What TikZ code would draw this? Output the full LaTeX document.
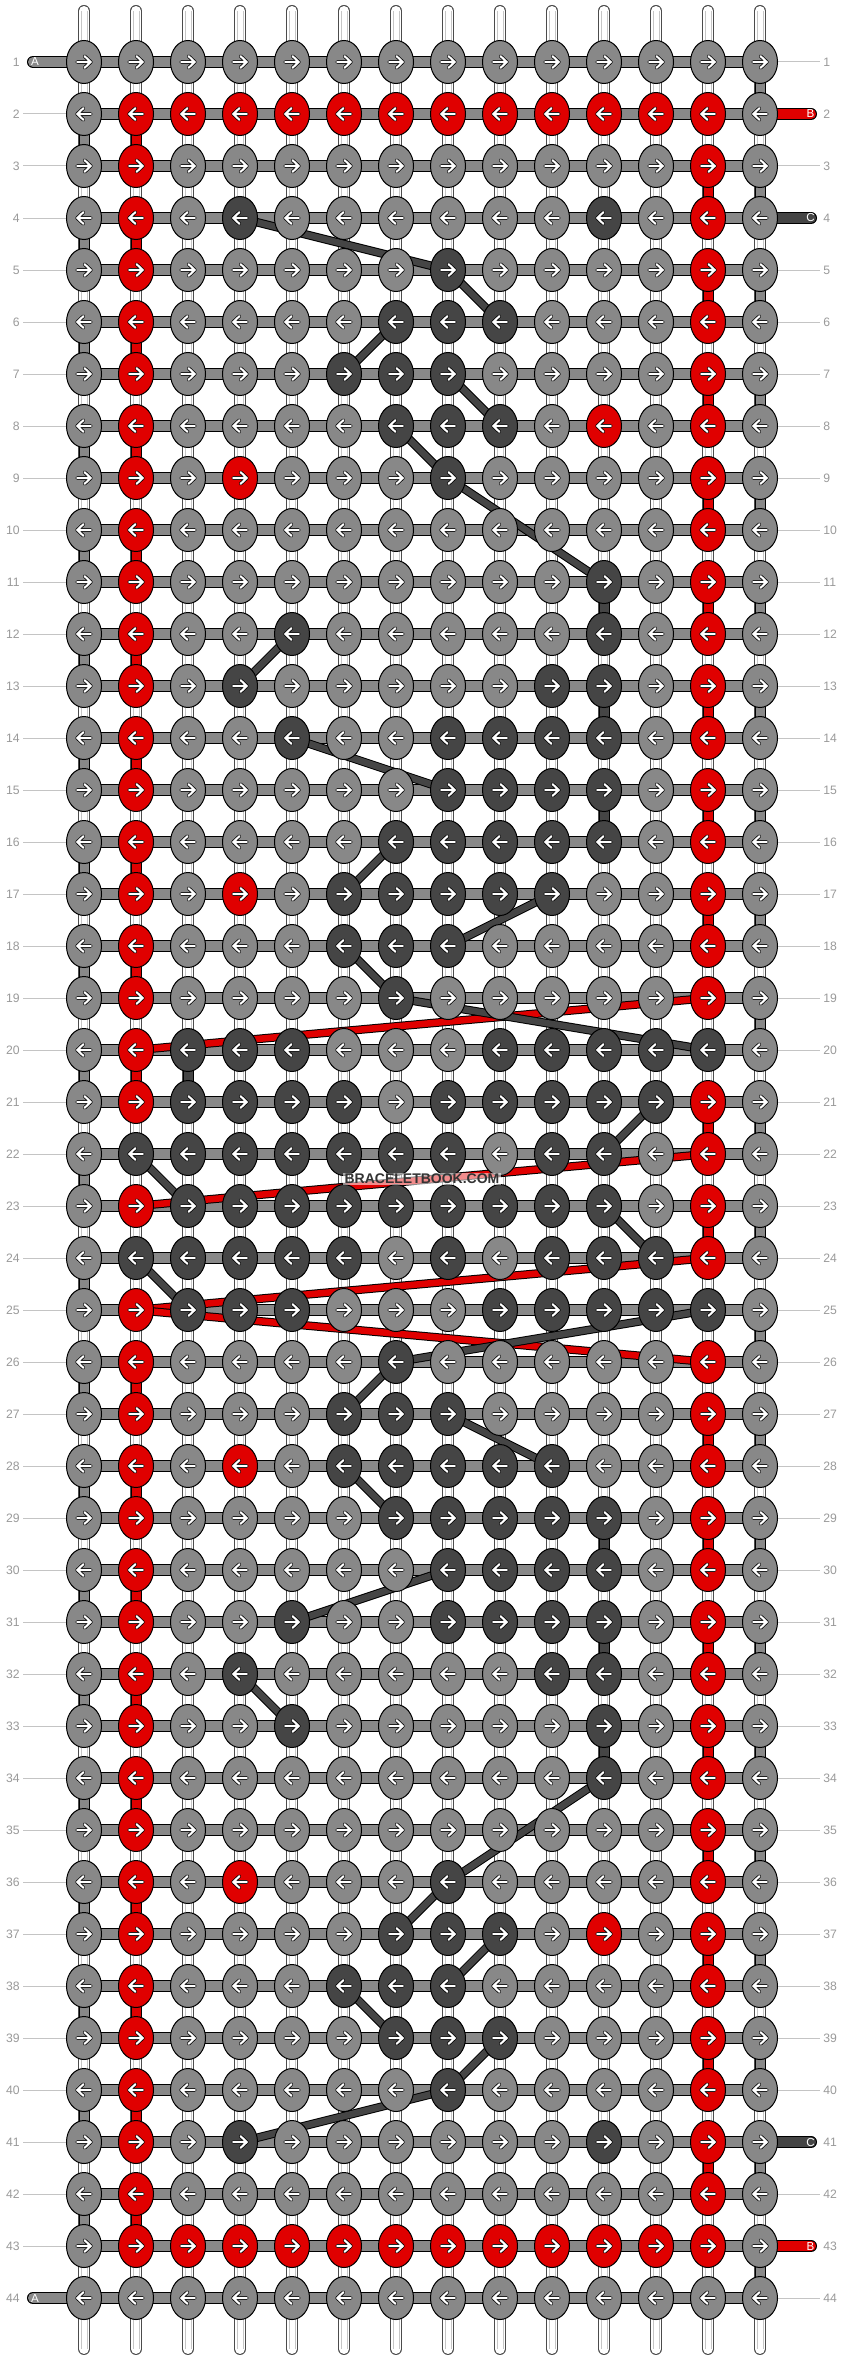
\documentclass[tikz,border=0pt]{standalone}
\usepackage{fontspec}
\setmainfont{Liberation Sans}
\usetikzlibrary{shapes.geometric}
\definecolor{knotgray}{HTML}{888888}
\definecolor{knotred}{HTML}{E00000}
\definecolor{knotdark}{HTML}{454545}
\definecolor{numgray}{HTML}{9A9A9A}
\definecolor{linegray}{HTML}{C4C4C4}
\pgfdeclarelayer{tubes}
\pgfdeclarelayer{links}
\pgfsetlayers{tubes,links,main}

\begin{document}
\begin{tikzpicture}[x=26pt, y=-26pt,
  knotbox/.style={ellipse, draw=black, line width=0.5pt, minimum width=17.5pt, minimum height=21.5pt, inner sep=0pt},
  rowbar/.style={draw=black, line width=0.5pt, double=knotgray, double distance=5pt},
  vlink/.style={draw=black, line width=0.5pt, double=#1, double distance=4.5pt},
  jumpline/.style={draw=black, line width=0.5pt, double=#1, double distance=3.25pt},
  tailbar/.style={draw=black, line width=0.5pt, double=#1, double distance=5pt, line cap=round},
  tubeline/.style={draw=black!70, line width=0.5pt, double=white, double distance=5pt, line cap=round},
  numline/.style={draw=linegray, line width=0.5pt},
  rownum/.style={text=numgray, font=\fontsize{6.1pt}{7pt}\selectfont, inner sep=1.5pt},
  tailtext/.style={text=white, font=\fontsize{5.8pt}{7pt}\selectfont, inner sep=0pt}]
  \useasboundingbox (-0.6154,-0.1923) rectangle (15.6154,45.1923);
  %----- one knot: (row, col, colour 0 gray / 1 red / 2 dark) -----
  \def\knot#1#2#3{%
    \ifcase#3 \def\kc{knotgray}\or \def\kc{knotred}\or \def\kc{knotdark}\fi
    \node[knotbox, fill=\kc] (k-#1-#2) at (#2,#1) {};
    % odd rows point right, even rows left
    \ifodd#1 \def\kd{1}\else \def\kd{-1}\fi
    \begin{scope}[shift={(#2,#1)}, xscale=\kd]
      \draw[black, line width=1.8pt, line cap=round, line join=round]
        (-3.4pt,0pt) -- (3.4pt,0pt) (0.3pt,2.9pt) -- (3.4pt,0pt) -- (0.3pt,-2.9pt);
      \draw[white, line width=1.05pt, line cap=round, line join=round]
        (-3.4pt,0pt) -- (3.4pt,0pt) (0.3pt,2.9pt) -- (3.4pt,0pt) -- (0.3pt,-2.9pt);
    \end{scope}}
  \def\knotrow#1#2{\foreach \v [count=\c] in {#2} {\knot{#1}{\c}{\v}}}

  %----- knots, row by row -----
  \knotrow{1}{0,0,0,0,0,0,0,0,0,0,0,0,0,0}
  \knotrow{2}{0,1,1,1,1,1,1,1,1,1,1,1,1,0}
  \knotrow{3}{0,1,0,0,0,0,0,0,0,0,0,0,1,0}
  \knotrow{4}{0,1,0,2,0,0,0,0,0,0,2,0,1,0}
  \knotrow{5}{0,1,0,0,0,0,0,2,0,0,0,0,1,0}
  \knotrow{6}{0,1,0,0,0,0,2,2,2,0,0,0,1,0}
  \knotrow{7}{0,1,0,0,0,2,2,2,0,0,0,0,1,0}
  \knotrow{8}{0,1,0,0,0,0,2,2,2,0,1,0,1,0}
  \knotrow{9}{0,1,0,1,0,0,0,2,0,0,0,0,1,0}
  \knotrow{10}{0,1,0,0,0,0,0,0,0,0,0,0,1,0}
  \knotrow{11}{0,1,0,0,0,0,0,0,0,0,2,0,1,0}
  \knotrow{12}{0,1,0,0,2,0,0,0,0,0,2,0,1,0}
  \knotrow{13}{0,1,0,2,0,0,0,0,0,2,2,0,1,0}
  \knotrow{14}{0,1,0,0,2,0,0,2,2,2,2,0,1,0}
  \knotrow{15}{0,1,0,0,0,0,0,2,2,2,2,0,1,0}
  \knotrow{16}{0,1,0,0,0,0,2,2,2,2,2,0,1,0}
  \knotrow{17}{0,1,0,1,0,2,2,2,2,2,0,0,1,0}
  \knotrow{18}{0,1,0,0,0,2,2,2,0,0,0,0,1,0}
  \knotrow{19}{0,1,0,0,0,0,2,0,0,0,0,0,1,0}
  \knotrow{20}{0,1,2,2,2,0,0,0,2,2,2,2,2,0}
  \knotrow{21}{0,1,2,2,2,2,0,2,2,2,2,2,1,0}
  \knotrow{22}{0,2,2,2,2,2,2,2,0,2,2,0,1,0}
  \knotrow{23}{0,1,2,2,2,2,2,2,2,2,2,0,1,0}
  \knotrow{24}{0,2,2,2,2,2,0,2,0,2,2,2,1,0}
  \knotrow{25}{0,1,2,2,2,0,0,0,2,2,2,2,2,0}
  \knotrow{26}{0,1,0,0,0,0,2,0,0,0,0,0,1,0}
  \knotrow{27}{0,1,0,0,0,2,2,2,0,0,0,0,1,0}
  \knotrow{28}{0,1,0,1,0,2,2,2,2,2,0,0,1,0}
  \knotrow{29}{0,1,0,0,0,0,2,2,2,2,2,0,1,0}
  \knotrow{30}{0,1,0,0,0,0,0,2,2,2,2,0,1,0}
  \knotrow{31}{0,1,0,0,2,0,0,2,2,2,2,0,1,0}
  \knotrow{32}{0,1,0,2,0,0,0,0,0,2,2,0,1,0}
  \knotrow{33}{0,1,0,0,2,0,0,0,0,0,2,0,1,0}
  \knotrow{34}{0,1,0,0,0,0,0,0,0,0,2,0,1,0}
  \knotrow{35}{0,1,0,0,0,0,0,0,0,0,0,0,1,0}
  \knotrow{36}{0,1,0,1,0,0,0,2,0,0,0,0,1,0}
  \knotrow{37}{0,1,0,0,0,0,2,2,2,0,1,0,1,0}
  \knotrow{38}{0,1,0,0,0,2,2,2,0,0,0,0,1,0}
  \knotrow{39}{0,1,0,0,0,0,2,2,2,0,0,0,1,0}
  \knotrow{40}{0,1,0,0,0,0,0,2,0,0,0,0,1,0}
  \knotrow{41}{0,1,0,2,0,0,0,0,0,0,2,0,1,0}
  \knotrow{42}{0,1,0,0,0,0,0,0,0,0,0,0,1,0}
  \knotrow{43}{0,1,1,1,1,1,1,1,1,1,1,1,1,0}
  \knotrow{44}{0,0,0,0,0,0,0,0,0,0,0,0,0,0}

  %----- row numbers and string names -----
  \foreach \r in {1,...,44} {
    \node[rownum, anchor=east] (ln-\r) at (-0.173,\r) {\r};
    \node[rownum, anchor=west] (rn-\r) at (15.154,\r) {\r};
  }
  \node[tailtext] (na-1) at (0.058,1) {A};
  \node[tailtext] (na-44) at (0.058,44) {A};
  \node[tailtext] (nb-2) at (14.97,2) {B};
  \node[tailtext] (nb-43) at (14.97,43) {B};
  \node[tailtext] (nc-4) at (14.97,4) {C};
  \node[tailtext] (nc-41) at (14.97,41) {C};
  \node[text=black!80, fill=white, fill opacity=0.55, text opacity=1,
    font=\bfseries\fontsize{7pt}{8pt}\selectfont, inner sep=0.6pt] (wm) at (7.5,22.48) {BRACELETBOOK.COM};

  %----- white vertical strings -----
  \begin{pgfonlayer}{tubes}
    \fill[white] (-0.6154,-0.1923) rectangle (15.6154,45.1923);
    \foreach \c in {1,...,14} {
      \coordinate (top-\c) at (\c,0.019);
      \coordinate (bot-\c) at (\c,44.98);
      \draw[tubeline] (top-\c) -- (bot-\c);
      \draw[gray!45, line width=0.4pt] ([xshift=-1.5pt]top-\c) -- ([xshift=-1.5pt]bot-\c)
        ([xshift=1.5pt]top-\c) -- ([xshift=1.5pt]bot-\c);
    }
  \end{pgfonlayer}

  \begin{pgfonlayer}{links}
    % rows
    \foreach \r in {1,...,44}
      \draw[rowbar] (k-\r-1.center) -- (k-\r-14.center);
    % tails
    \coordinate (ta-1) at (0.019,1);
    \coordinate (ta-44) at (0.019,44);
    \coordinate (tb-2) at (14.981,2);
    \coordinate (tb-43) at (14.981,43);
    \coordinate (tc-4) at (14.981,4);
    \coordinate (tc-41) at (14.981,41);
    \draw[tailbar=knotgray] (k-1-1.center) -- (ta-1);
    \draw[tailbar=knotgray] (k-44-1.center) -- (ta-44);
    \draw[tailbar=knotred] (k-2-14.center) -- (tb-2);
    \draw[tailbar=knotred] (k-43-14.center) -- (tb-43);
    \draw[tailbar=knotdark] (k-4-14.center) -- (tc-4);
    \draw[tailbar=knotdark] (k-41-14.center) -- (tc-41);
    % number lines
    \foreach \r in {2,...,43}
      \draw[numline] (k-\r-1.west) -- (ln-\r.east);
    \foreach \r in {1,3,42,44}
      \draw[numline] (k-\r-14.east) -- (rn-\r.west);
    \foreach \r in {5,...,40}
      \draw[numline] (k-\r-14.east) -- (rn-\r.west);
    % string A turns at the edges
    \foreach \r in {1,3,...,43} {
      \pgfmathtruncatemacro\s{\r+1}
      \draw[vlink=knotgray] (k-\r-14.center) -- (k-\s-14.center);
    }
    \foreach \r in {2,4,...,42} {
      \pgfmathtruncatemacro\s{\r+1}
      \draw[vlink=knotgray] (k-\r-1.center) -- (k-\s-1.center);
    }
    % string B
    \foreach \r in {2,4,...,18} {
      \pgfmathtruncatemacro\s{\r+1}
      \draw[vlink=knotred] (k-\r-2.center) -- (k-\s-2.center);
    }
    \foreach \r in {26,28,...,42} {
      \pgfmathtruncatemacro\s{\r+1}
      \draw[vlink=knotred] (k-\r-2.center) -- (k-\s-2.center);
    }
    \foreach \r in {3,5,...,17} {
      \pgfmathtruncatemacro\s{\r+1}
      \draw[vlink=knotred] (k-\r-13.center) -- (k-\s-13.center);
    }
    \foreach \r in {27,29,...,41} {
      \pgfmathtruncatemacro\s{\r+1}
      \draw[vlink=knotred] (k-\r-13.center) -- (k-\s-13.center);
    }
    \foreach \ra/\ca/\rb/\cb in {20/2/21/2, 21/13/22/13, 23/13/24/13}
      \draw[vlink=knotred] (k-\ra-\ca.center) -- (k-\rb-\cb.center);
    \foreach \ra/\ca/\rb/\cb in {19/13/20/2, 22/13/23/2, 24/13/25/2, 25/2/26/13}
      \draw[jumpline=knotred] (k-\ra-\ca.center) -- (k-\rb-\cb.center);
    % string C
    \foreach \ra/\ca/\rb/\cb in {11/11/12/11, 13/11/14/11, 15/11/16/11, 20/3/21/3,
        29/11/30/11, 31/11/32/11, 33/11/34/11}
      \draw[vlink=knotdark] (k-\ra-\ca.center) -- (k-\rb-\cb.center);
    \foreach \ra/\ca/\rb/\cb in {4/4/5/8, 5/8/6/9, 6/7/7/6, 7/8/8/9, 8/7/9/8, 9/8/11/11,
        12/5/13/4, 14/5/15/8, 16/7/17/6, 17/10/18/8, 18/6/19/7, 19/7/20/13,
        21/12/22/11, 22/2/23/3, 23/11/24/12, 24/2/25/3, 25/13/26/7, 26/7/27/6,
        27/8/28/10, 28/6/29/7, 30/8/31/5, 32/4/33/5, 34/11/36/8, 36/8/37/7,
        37/9/38/8, 38/6/39/7, 39/9/40/8, 40/8/41/4}
      \draw[jumpline=knotdark] (k-\ra-\ca.center) -- (k-\rb-\cb.center);
  \end{pgfonlayer}
\end{tikzpicture}
\end{document}
